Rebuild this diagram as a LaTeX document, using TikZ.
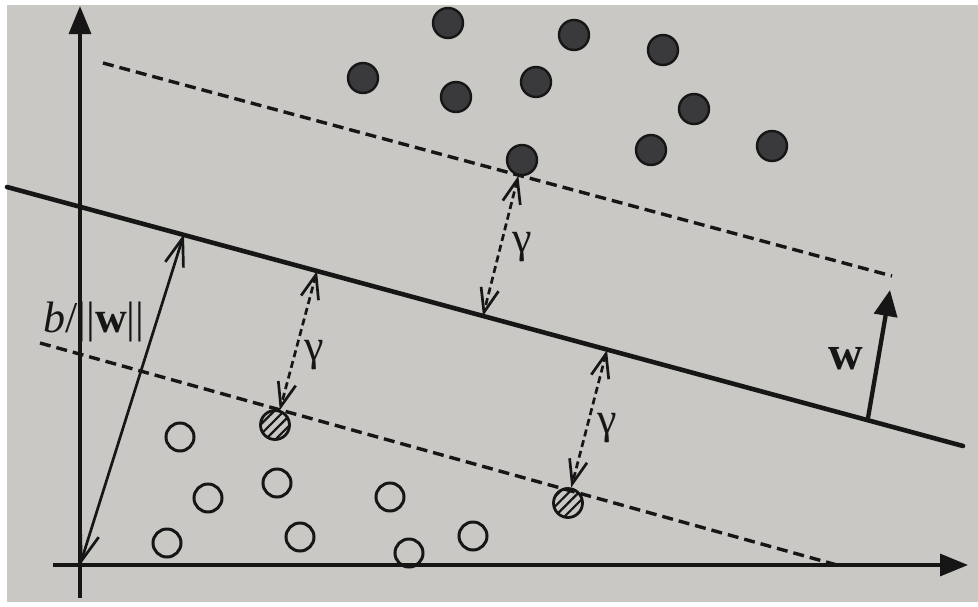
\documentclass[tikz,border=0pt]{standalone}
\usepackage{fontspec}
\setmainfont{Liberation Serif}
\usetikzlibrary{arrows.meta,patterns.meta}
\definecolor{paper}{RGB}{201,200,196}
\definecolor{ink}{RGB}{22,22,22}
\definecolor{dotfill}{RGB}{58,58,60}
\tikzset{
  axisline/.style={line width=3.3pt, draw=ink, -{Triangle[length=28pt,width=22pt]}},
  hyper/.style={line width=4.6pt, draw=ink, line cap=round},
  marginline/.style={line width=3.4pt, draw=ink, dash pattern=on 11pt off 6pt},
  gaparrow/.style={line width=2.7pt, draw=ink, dash pattern=on 7pt off 4pt,
    {Straight Barb[length=24pt,width=18pt]}-{Straight Barb[length=24pt,width=18pt]}},
  offsetarrow/.style={line width=2.7pt, draw=ink,
    {Straight Barb[length=28pt,width=19pt]}-{Straight Barb[length=28pt,width=19pt]}},
  normalarrow/.style={line width=4.3pt, draw=ink, -{Triangle[length=26pt,width=23pt]}},
  dotpt/.style={circle, draw=ink, line width=2.4pt, fill=dotfill, minimum size=30pt, inner sep=0pt},
  ringpt/.style={circle, draw=ink, line width=3pt, minimum size=28pt, inner sep=0pt},
  hatchpt/.style={circle, draw=ink, line width=2.8pt, minimum size=29pt, inner sep=0pt,
    pattern={Lines[angle=45,distance=7pt,line width=2.2pt]}, pattern color=ink},
  lbl/.style={inner sep=0pt, text=ink, font=\fontsize{44}{50}\selectfont}
}
\begin{document}
\begin{tikzpicture}[x=1pt,y=-1pt]
\useasboundingbox (0,0) rectangle (978,606);
\fill[white] (0,0) rectangle (978,606);
\fill[paper] (7,5) rectangle (978,602);

% axes
\coordinate (O) at (80,565);
\coordinate (ybot) at (80,598);
\coordinate (ytop) at (80,6);
\coordinate (xleft) at (53,565);
\coordinate (xright) at (968,565);
\draw[axisline] (ybot) -- (ytop);
\draw[axisline] (xleft) -- (xright);

% hyperplane and margins
\coordinate (hL) at (7,187);
\coordinate (hR) at (963,446);
\coordinate (uL) at (103,63);
\coordinate (uR) at (892,276);
\coordinate (lL) at (40,343);
\coordinate (lR) at (837,565);
\draw[hyper] (hL) -- (hR);
\draw[marginline] (uL) -- (uR);
\draw[marginline] (lL) -- (lR);

% filled points
\node[dotpt] (p1) at (448,23) {};
\node[dotpt] (p2) at (574,35) {};
\node[dotpt] (p3) at (663,50) {};
\node[dotpt] (p4) at (363,78) {};
\node[dotpt] (p5) at (456,97) {};
\node[dotpt] (p6) at (536,82) {};
\node[dotpt] (p7) at (694,109) {};
\node[dotpt] (p8) at (522,160) {};
\node[dotpt] (p9) at (651,150) {};
\node[dotpt] (p10) at (772,146) {};

% open points
\node[ringpt] (n1) at (180,437) {};
\node[ringpt] (n2) at (208,498) {};
\node[ringpt] (n3) at (277,483) {};
\node[ringpt] (n4) at (167,543) {};
\node[ringpt] (n5) at (300,537) {};
\node[ringpt] (n6) at (390,497) {};
\node[ringpt] (n7) at (409,553) {};
\node[ringpt] (n8) at (473,536) {};

% hatched support points
\node[hatchpt] (h1) at (275,425) {};
\node[hatchpt] (h2) at (568,503) {};

% margin arrows
\coordinate (g1) at (483,316);
\coordinate (g2) at (317,271);
\coordinate (g3) at (607,350);
\draw[gaparrow] (p8.-103) -- (g1);
\draw[gaparrow] (g2) -- (h1.72);
\draw[gaparrow] (g3) -- (h2.78);

% offset arrow
\coordinate (bw) at (184,234);
\draw[offsetarrow] (O) -- (bw);

% normal vector
\coordinate (wb) at (868,418);
\coordinate (wt) at (890,290);
\draw[normalarrow] (wb) -- (wt);

% labels
\node[lbl, anchor=base west] (bwlab) at (43,332) {\textit{b}/||\textbf{w}||};
\node[lbl, font=\fontsize{48}{54}\selectfont\bfseries] (wlab) at (846,359) {w};
\node[lbl] (gam1) at (522,247) {γ};
\node[lbl] (gam2) at (314,355) {γ};
\node[lbl] (gam3) at (607,428) {γ};
\end{tikzpicture}
\end{document}
